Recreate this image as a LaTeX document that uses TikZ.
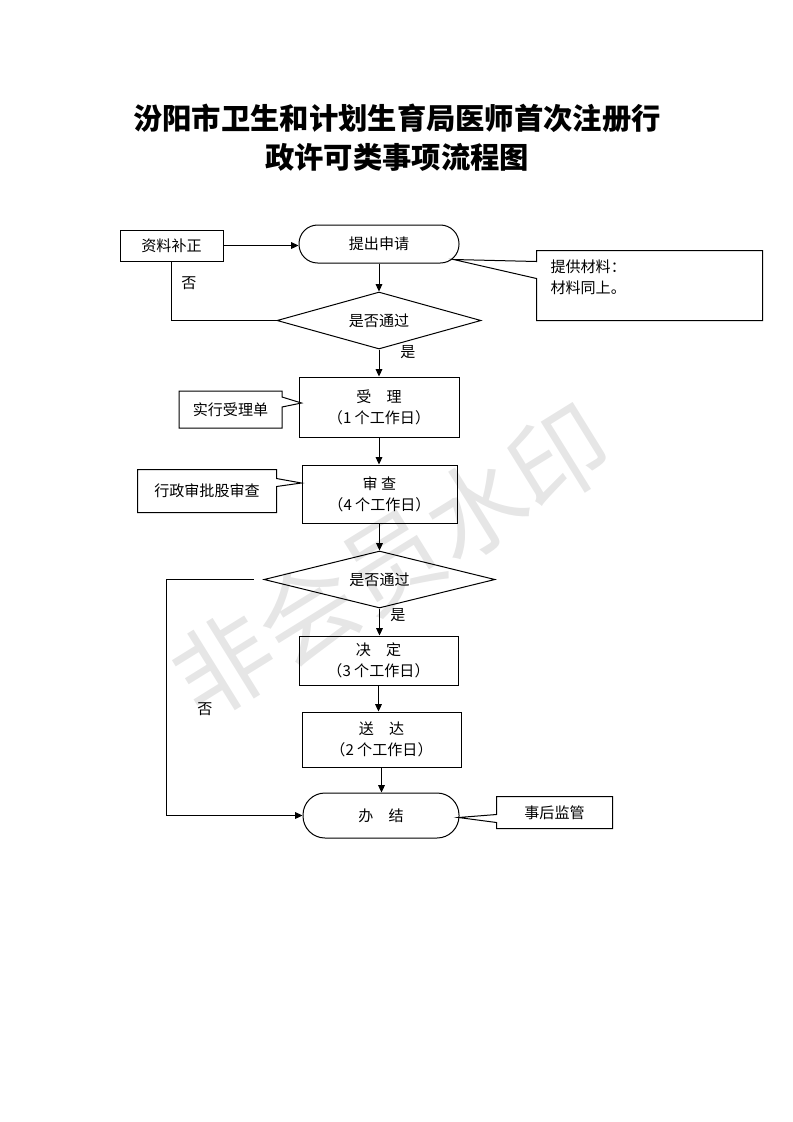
\documentclass[tikz,border=0pt]{standalone}
\usepackage{fontspec}
\setmainfont{Noto Sans CJK SC}
\newfontfamily\titlefont{Noto Sans CJK SC}
\usepackage{xcolor}
\definecolor{markgray}{RGB}{230,230,230}
\usetikzlibrary{arrows.meta, shapes.geometric, calc}

\begin{document}
\begin{tikzpicture}[x=0.75pt, y=-0.75pt, every path/.style={line width=0.75pt},
    txt/.style={inner sep=0pt, font=\fontsize{11.3}{15.75}\selectfont, align=center},
    box/.style={txt, draw, rectangle},
    ends/.style={box, rounded corners=#1},
    ask/.style={txt, draw, diamond, aspect=3.6},
    flow/.style={-{Triangle[length=5.5pt,width=5pt]}}]
  \useasboundingbox (0,0) rectangle (793,1122);
  \node[rotate=31.8, text=markgray, font=\fontsize{74}{74}\selectfont] (mark) at (391.5,560.5) {非会员水印};

  \node[font=\titlefont\bfseries\fontsize{22}{29}\selectfont] (title1) at (397,118) {汾阳市卫生和计划生育局医师首次注册行};
  \node[font=\titlefont\bfseries\fontsize{22}{29}\selectfont] (title2) at (397,157) {政许可类事项流程图};

  \node[box, minimum width=77.25pt, minimum height=23.25pt] (fix) at (171.5,245.5) {资料补正};
  \node[ends=14pt, minimum width=120pt, minimum height=28.5pt] (apply) at (379,244) {提出申请};
  \node[txt, minimum width=168.75pt, minimum height=51.75pt] (note) at (649.5,285.5) {};
  \node[txt, anchor=north west, align=left] (notetext) at (550,259) {提供材料：\\材料同上。};
  \node[ask, minimum width=153pt, minimum height=42.75pt] (check1) at (379,320.5) {是否通过};
  \node[box, minimum width=120pt, minimum height=45pt] (accept) at (379,407) {受　理\\（1 个工作日）};
  \node[txt, minimum width=76.5pt, minimum height=27pt] (slip) at (230.5,409.5) {实行受理单};
  \node[box, minimum width=116.25pt, minimum height=43.5pt] (review) at (379.5,494) {审 查\\（4 个工作日）};
  \node[txt, minimum width=103.5pt, minimum height=31.5pt] (office) at (207,491) {行政审批股审查};
  \node[ask, minimum width=173.25pt, minimum height=42.75pt] (check2) at (379.5,579.5) {是否通过};
  \node[box, minimum width=119.25pt, minimum height=36.75pt] (decide) at (378.5,660.5) {决　定\\（3 个工作日）};
  \node[box, minimum width=119.25pt, minimum height=41.25pt] (deliver) at (381.5,739.5) {送　达\\（2 个工作日）};
  \node[ends=16.5pt, minimum width=117pt, minimum height=33.75pt] (finish) at (381,815.5) {办　结};
  \node[txt, minimum width=86.25pt, minimum height=23.25pt] (audit) at (554.5,812.5) {事后监管};

  \draw (note.north west) -- (note.north east) -- (note.south east) -- (note.south west)
    -- ($(note.north west)+(0,28)$) -- ($(apply.south east)+(-6,-4)$) -- ($(note.north west)+(0,11)$) -- cycle;
  \draw (slip.north west) -- (slip.north east) -- ($(slip.north east)+(0,6)$) -- ($(accept.west)+(3,-4)$)
    -- ($(slip.north east)+(0,16)$) -- (slip.south east) -- (slip.south west) -- cycle;
  \draw (office.north west) -- (office.north east) -- ($(office.north east)+(0,9)$) -- ($(review.west)+(0,-11)$)
    -- ($(office.north east)+(0,17)$) -- (office.south east) -- (office.south west) -- cycle;
  \draw (audit.north west) -- (audit.north east) -- (audit.south east) -- (audit.south west)
    -- ($(audit.north west)+(0,26)$) -- ($(finish.east)+(-1,2)$) -- ($(audit.north west)+(0,18)$) -- cycle;

  \draw[flow] (fix.east) -- (fix.east -| apply.west);
  \draw[flow] (apply) -- (check1);
  \draw (fix.south) |- (check1.west);
  \node[txt] (no1) at (189,283) {否};
  \draw[flow] (check1) -- (accept);
  \node[txt] (yes1) at (408,352) {是};
  \draw[flow] (accept.south) -- (accept.south |- review.north);
  \draw[flow] (review.south) -- (review.south |- check2.north);
  \draw[flow] (check2.south) -- (check2.south |- decide.north);
  \node[txt] (yes2) at (398,615) {是};
  \draw[flow] (decide.south) -- (decide.south |- deliver.north);
  \draw[flow] (deliver.south) -- (deliver.south |- finish.north);
  \draw[flow] ($(check2.west)+(-10,0)$) -- ++(-87,0) |- (finish.west);
  \node[txt] (no2) at (205,709) {否};
\end{tikzpicture}
\end{document}
